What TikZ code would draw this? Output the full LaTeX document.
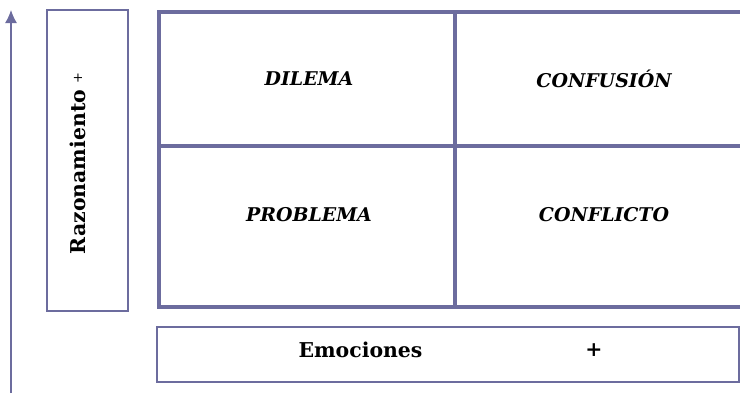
\documentclass[tikz,border=0pt]{standalone}
\usepackage{fontspec}
\setmainfont{DejaVu Serif}
\usepackage{tikz}
\usetikzlibrary{shapes.geometric, arrows, arrows.meta}
\definecolor{lila}{RGB}{108,108,158}
\tikzstyle{flecha} = [draw=lila,line width=1.3bp,-{Latex[length=13bp,width=12bp]}]
\tikzstyle{caja} = [draw=lila,line width=2bp,inner sep=0pt]
\tikzstyle{rejilla} = [draw=lila,line width=3.2bp]
\tikzstyle{cuadrante} = [font=\fontsize{19}{21}\selectfont\bfseries\itshape]
\tikzstyle{eje} = [font=\fontsize{20.5}{22}\selectfont\bfseries]

\begin{document}
\begin{tikzpicture}[x=1bp,y=-1bp]
		\useasboundingbox (0,0) rectangle (740,393);
		% eje vertical
		\coordinate (base) at (11,393);
		\coordinate (tope) at (11,10);
		\draw[flecha] (base) -- (tope);
		% caja del razonamiento
		\node[caja,rotate=90,minimum width=301bp,minimum height=81bp] 
			(razon) at (87.5,160.5) {};
		\node[eje,rotate=90] (razontexto) at (77.5,163.5) 
			{Razonamiento\hspace{6bp}\raisebox{3bp}{\fontsize{13}{13}\selectfont\mdseries +}};
		% la rejilla de cuatro cuadrantes
		\draw[rejilla] (159,12) rectangle (760,307);
		\draw[rejilla] (455,12) -- (455,307);
		\draw[rejilla] (159,146) -- (760,146);
		\foreach \Xc/\Yc/\Nombre/\Texto in 
		{309/79/dilema/DILEMA,604/79/confusion/CONFUSIÓN,309/215/problema/PROBLEMA,604/215/conflicto/CONFLICTO}
		{
			\node[cuadrante] (\Nombre) at (\Xc,\Yc) {\Texto};
		}
		% caja de las emociones
		\node[caja,minimum width=582bp,minimum height=55bp] (emociones) at (448,354.5) {};
		\node[eje] (emo) at (360.5,350) {Emociones};
		\node[eje] (mas) at (594,350) {+};
\end{tikzpicture}
\end{document}
